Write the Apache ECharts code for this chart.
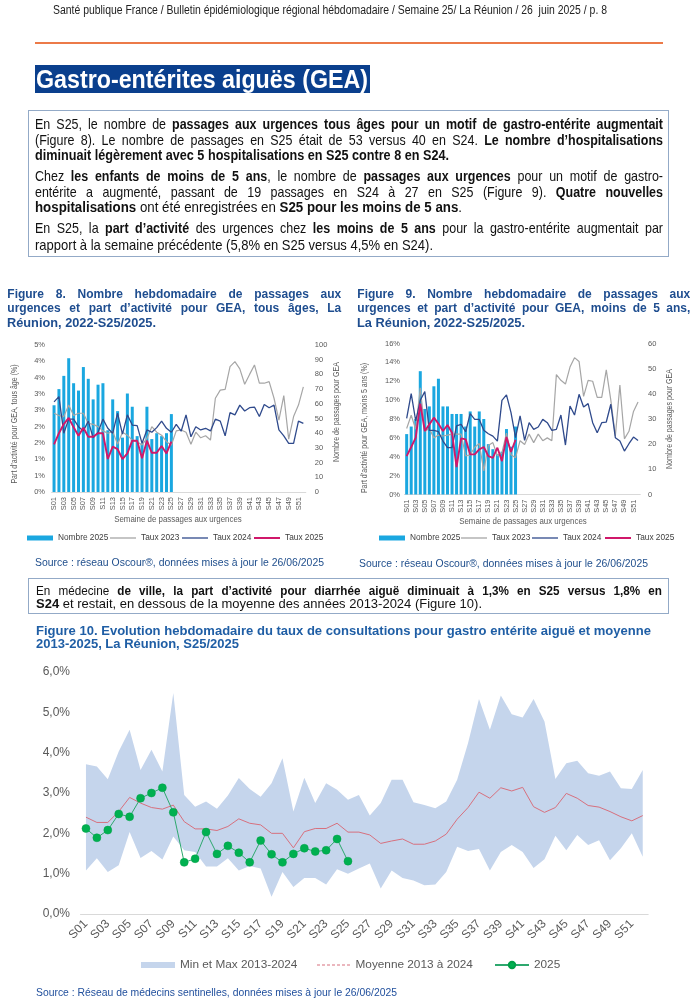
<!DOCTYPE html>
<html><head><meta charset="utf-8">
<script src="https://cdn.jsdelivr.net/npm/echarts@6/dist/echarts.min.js"></script>
<style>
body{margin:0;background:#fff;}
#page{position:relative;width:699px;height:1000px;overflow:hidden;background:#fff;}
#chart{position:absolute;left:0;top:0;width:699px;height:1000px;}
.ln{position:absolute;white-space:nowrap;transform-origin:0 50%;}
.j{text-align:justify;text-align-last:justify;}
.nar{font-family:"Liberation Sans Narrow","Arial Narrow","Liberation Sans",Arial,sans-serif;}
.reg{font-family:"Liberation Sans",Arial,sans-serif;}
.box{position:absolute;border:1.5px solid #93AAC7;box-sizing:border-box;}
.t14{font-size:14.5px;line-height:16px;color:#111;}
.ft{font-size:12px;line-height:14px;font-weight:bold;color:#1E4D8F;}
.src{font-size:10px;line-height:14px;color:#1F4E8C;}
</style></head>
<body><div id="page">
<div id="chart"></div>

<div class="ln nar" data-w="554" style="left:53px;top:3px;font-size:12px;line-height:14px;color:#222">Santé publique France / Bulletin épidémiologique régional hébdomadaire / Semaine 25/ La Réunion / 26&nbsp; juin 2025 / p. 8</div>
<div style="position:absolute;left:35px;top:42px;width:628px;height:2px;background:#EC7A48"></div>
<div style="position:absolute;left:35px;top:65px;width:335px;height:28px;background:#0A3F8D"></div>
<div class="ln nar" data-w="332" style="left:36px;top:65px;font-size:26px;line-height:28px;font-weight:bold;color:#fff">Gastro-entérites aiguës (GEA)</div>

<div class="box" style="left:28px;top:110px;width:641px;height:147px"></div>
<div class="ln nar t14 j" data-s="0.86" data-w="628" style="left:35px;top:116px">En S25, le nombre de <b>passages aux urgences tous âges pour un motif de gastro-entérite augmentait</b></div>
<div class="ln nar t14 j" data-s="0.86" data-w="628" style="left:35px;top:132px">(Figure 8). Le nombre de passages en S25 était de 53 versus 40 en S24. <b>Le nombre d’hospitalisations</b></div>
<div class="ln nar t14" data-w="414" style="left:35px;top:147px"><b>diminuait légèrement avec 5 hospitalisations en S25 contre 8 en S24.</b></div>
<div class="ln nar t14 j" data-s="0.86" data-w="628" style="left:35px;top:168px">Chez <b>les enfants de moins de 5 ans</b>, le nombre de <b>passages aux urgences</b> pour un motif de gastro-</div>
<div class="ln nar t14 j" data-s="0.86" data-w="628" style="left:35px;top:183.7px">entérite a augmenté, passant de 19 passages en S24 à 27 en S25 (Figure 9). <b>Quatre nouvelles</b></div>
<div class="ln nar t14" data-w="427" style="left:35px;top:198.7px"><b>hospitalisations</b> ont été enregistrées en <b>S25 pour les moins de 5 ans</b>.</div>
<div class="ln nar t14 j" data-s="0.86" data-w="628" style="left:35px;top:220.3px">En S25, la <b>part d’activité</b> des urgences chez <b>les moins de 5 ans</b> pour la gastro-entérite augmentait par</div>
<div class="ln nar t14" data-w="398" style="left:35px;top:237px">rapport à la semaine précédente (5,8% en S25 versus 4,5% en S24).</div>

<div class="ln reg ft j" data-w="334" style="left:7.3px;top:287px">Figure 8. Nombre hebdomadaire de passages aux</div>
<div class="ln reg ft j" data-w="334" style="left:7.3px;top:301.3px">urgences et part d’activité pour GEA, tous âges, La</div>
<div class="ln reg ft" data-w="149" style="left:7.3px;top:315.7px">Réunion, 2022-S25/2025.</div>
<div class="ln reg ft j" data-w="333" style="left:357.3px;top:287px">Figure 9. Nombre hebdomadaire de passages aux</div>
<div class="ln reg ft j" data-w="333" style="left:357.3px;top:301.3px">urgences et part d’activité pour GEA, moins de 5 ans,</div>
<div class="ln reg ft" data-w="168" style="left:357.3px;top:315.7px">La Réunion, 2022-S25/2025.</div>

<div class="ln reg src" data-w="289" style="left:35px;top:556.3px">Source : réseau Oscour®, données mises à jour le 26/06/2025</div>
<div class="ln reg src" data-w="289" style="left:359px;top:557px">Source : réseau Oscour®, données mises à jour le 26/06/2025</div>

<div class="box" style="left:28px;top:578px;width:641px;height:36px"></div>
<div class="ln nar j" data-s="0.88" data-w="626" style="left:35.6px;top:582.5px;font-size:13.3px;line-height:15px;color:#111">En médecine <b>de ville, la part d’activité pour diarrhée aiguë diminuait à 1,3% en S25 versus 1,8% en</b></div>
<div class="ln nar" data-w="446" style="left:35.6px;top:595.8px;font-size:13.3px;line-height:15px;color:#111"><b>S24</b> et restait, en dessous de la moyenne des années 2013-2024 (Figure 10).</div>
<div class="ln nar" data-w="615" style="left:35.6px;top:622.5px;font-size:13.3px;line-height:15px;font-weight:bold;color:#1F5EA5">Figure 10. Evolution hebdomadaire du taux de consultations pour gastro entérite aiguë et moyenne</div>
<div class="ln nar" data-w="203" style="left:35.6px;top:635.8px;font-size:13.3px;line-height:15px;font-weight:bold;color:#1F5EA5">2013-2025, La Réunion, S25/2025</div>

<div class="ln nar" data-w="361" style="left:35.6px;top:984.7px;font-size:11.5px;line-height:14px;color:#1F4E9C">Source : Réseau de médecins sentinelles, données mises à jour le 26/06/2025</div>
</div>

<script>
// ---------- DATA ----------
const weeks = ['S01','S02','S03','S04','S05','S06','S07','S08','S09','S10','S11','S12','S13','S14','S15','S16','S17','S18','S19','S20','S21','S22','S23','S24','S25','S26',
  'S27','S28','S29','S30','S31','S32','S33','S34','S35','S36','S37','S38','S39','S40','S41','S42','S43','S44','S45','S46','S47','S48','S49','S50','S51','S52'];

// Figure 8 - tous âges
const fig8Nombre2025 = [59,70,79,91,74,69,85,77,63,73,74,42,63,55,37,67,58,38,33,58,36,40,38,40,53];
const fig8Taux2023 = [2.41,2.34,2.31,2.66,2.34,2.41,2.41,2.10,2.07,2.00,1.87,1.80,1.85,1.46,1.83,1.74,1.59,1.54,1.44,1.64,2.00,1.83,1.74,1.54,1.44,
  1.87,1.90,1.83,1.46,1.83,1.66,1.72,1.59,2.87,3.12,3.14,3.84,3.99,3.77,3.30,3.60,3.89,3.33,3.33,3.38,2.87,2.20,2.95,1.62,2.31,2.66,3.22];
const fig8Taux2024 = [2.76,2.92,1.80,2.23,2.23,2.00,1.87,2.17,1.66,1.83,2.23,1.95,1.80,2.41,1.77,2.36,2.05,2.03,1.49,1.90,1.83,1.97,2.17,1.95,1.83,
  2.07,1.86,2.36,1.69,2.00,1.90,1.95,1.87,2.23,2.17,1.72,2.43,2.36,2.66,2.48,2.58,2.60,2.31,2.68,2.58,2.66,1.90,1.72,1.49,1.49,2.17,2.10];
const fig8Taux2025 = [1.46,1.80,2.08,2.27,1.98,1.72,1.97,1.69,1.69,1.80,1.80,1.01,1.39,1.31,1.01,1.18,1.57,1.57,1.03,1.57,1.20,1.20,1.41,1.18,1.54];
const fig8LeftLabels = ['0%','1%','1%','2%','2%','3%','3%','4%','4%','5%'];
const fig8RightLabels = ['0','10','20','30','40','50','60','70','80','90','100'];

// Figure 9 - moins de 5 ans
const fig9Nombre2025 = [24,27,30,49,34,35,43,46,35,35,32,32,32,27,33,27,33,30,20,18,16,17,26,19,27];
const fig9Taux2023 = [7.0,8.4,6.9,11.3,6.7,7.0,6.0,6.3,6.2,6.3,6.4,6.4,6.4,4.1,4.2,5.0,5.4,2.5,5.2,5.5,4.1,4.4,6.5,4.2,3.9,
  5.7,5.3,6.4,5.5,6.4,5.7,6.0,5.7,12.7,12.1,11.7,13.5,14.5,14.1,10.4,12.1,12.0,10.3,10.3,13.2,10.0,6.2,11.6,5.9,6.7,8.8,9.8];
const fig9Taux2024 = [8.07,10.69,7.79,9.98,10.90,6.80,6.80,6.65,5.66,4.96,4.96,7.26,7.43,6.65,8.57,7.96,7.96,6.80,6.44,6.19,5.66,9.98,10.55,8.67,6.02,
  8.32,5.73,7.61,6.90,7.15,7.96,7.61,6.80,6.90,8.42,5.24,9.38,8.42,10.62,9.27,9.63,7.61,6.55,7.61,7.68,9.56,6.02,5.66,4.60,5.38,6.09,5.73];
const fig9Taux2025 = [4.07,5.03,6.02,9.63,6.73,7.43,8.14,7.50,6.73,7.36,6.55,2.90,5.95,5.84,4.25,4.25,4.78,5.03,4.07,3.89,4.96,3.54,6.09,4.5,5.8];
const fig9LeftLabels = ['0%','2%','4%','6%','8%','10%','12%','14%','16%'];
const fig9RightLabels = ['0','10','20','30','40','50','60'];

// Figure 10 - médecins sentinelles
const fig10Max = [3.71,3.66,3.34,4.03,4.57,3.57,4.07,3.53,5.48,2.95,2.66,2.79,2.61,2.94,3.37,3.10,2.91,3.24,3.86,2.54,3.38,2.75,3.24,3.08,2.83,
  2.95,2.44,2.75,3.33,3.33,2.77,2.70,2.62,2.79,3.33,4.24,5.33,4.57,5.42,4.95,4.87,5.33,4.77,3.35,3.74,3.80,3.49,3.43,3.53,3.12,3.10,3.57];
const fig10Min = [1.08,1.38,1.04,1.21,2.03,1.39,1.56,1.35,1.92,1.58,1.54,1.18,1.18,1.38,1.08,1.19,1.13,0.43,1.04,0.67,0.89,0.89,0.73,1.11,1.00,
  1.13,1.25,0.63,1.08,0.89,0.83,0.71,0.73,1.04,1.67,1.56,1.61,1.08,1.54,1.71,1.54,1.14,1.36,1.94,1.58,1.96,1.71,1.83,1.33,1.63,2.00,1.42];
const fig10Moyenne = [2.40,2.27,2.27,2.54,2.89,2.75,2.64,2.60,2.70,2.29,2.11,2.11,2.07,2.17,2.36,2.25,2.21,2.00,2.00,1.64,2.04,2.12,2.12,2.25,2.03,
  2.03,1.96,1.75,1.81,1.86,1.73,1.73,1.81,1.98,2.35,2.64,3.02,2.87,3.13,3.05,3.14,2.66,2.52,2.64,2.99,2.87,2.69,2.65,2.54,2.41,2.31,2.44];
const fig10Data2025 = [2.12,1.89,2.08,2.48,2.41,2.87,3.00,3.13,2.52,1.28,1.37,2.03,1.49,1.69,1.52,1.28,1.82,1.48,1.28,1.49,1.63,1.55,1.58,1.86,1.31];
const fig10YLabels = ['0,0%','1,0%','2,0%','3,0%','4,0%','5,0%','6,0%'];

// ---------- CHART ----------
const REG = '"Liberation Sans",Arial,sans-serif';
const GRAY = '#595959';
const C_BAR = '#1AA7E0', C23 = '#A6A6A6', C24 = '#2F4A8C', C25 = '#D0186A';
const C_BAND = '#C5D5EC', C_MEAN = '#D7707E', C_2025L = '#2EA86E', C_2025P = '#00B050';
const DASH_ICON = 'path://M0 0h3v1h-3zM5 0h3v1h-3zM10 0h3v1h-3zM15 0h3v1h-3zM20 0h3v1h-3zM25 0h3v1h-3zM30 0h3v1h-3z';

const chart = echarts.init(document.getElementById('chart'));
const smallLbl = {fontFamily: REG, fontSize: 7.5, color: GRAY};
const catAxis = (gi, lbl) => ({gridIndex: gi, type: 'category', data: weeks, boundaryGap: true,
  axisTick: {show: false}, axisLine: {lineStyle: {color: '#D9D9D9', width: 1}}, splitLine: {show: false}, axisLabel: lbl});
const valAxis = (gi, pos, min, max, step, labels, margin, lblStyle) => ({gridIndex: gi, type: 'value', position: pos,
  min: min, max: max, interval: step, splitLine: {show: false}, axisLine: {show: false}, axisTick: {show: false},
  axisLabel: Object.assign({}, lblStyle, {margin: margin, showMinLabel: true, showMaxLabel: true,
    formatter: v => labels[Math.round((v - min) / step)]})});

const lineS = (name, xi, yi, data, color, width) => ({name, type: 'line', xAxisIndex: xi, yAxisIndex: yi, data,
  symbol: 'none', color: color, lineStyle: {color, width}, z: 3});

const legendItem = (name, left, top, icon, h) => ({data: [{name: name, icon: icon}], left, top, padding: 0, selectedMode: false,
  itemWidth: 26, itemHeight: h, textStyle: {fontFamily: REG, fontSize: 8.3, color: '#404040'}});

const gtext = (text, x, y, size, rot) => ({type: 'text', x, y, rotation: rot || 0, scaleX: 0.83, silent: true,
  style: {text, fontFamily: REG, fontSize: size, fill: GRAY, textAlign: 'center', textVerticalAlign: 'middle', align: 'center', verticalAlign: 'middle'}});

const option = {
  animation: false,
  grid: [
    {left: 51.6, top: 345, width: 254.2, height: 147},
    {left: 404.4, top: 343.5, width: 235.9, height: 151},
    {left: 80.5, top: 672, width: 567.7, height: 242}
  ],
  xAxis: [
    catAxis(0, Object.assign({}, smallLbl, {interval: 1, rotate: 90, margin: 5})),
    catAxis(1, Object.assign({}, smallLbl, {interval: 1, rotate: 90, margin: 5})),
    catAxis(2, {fontFamily: REG, fontSize: 12, color: GRAY, interval: 1, rotate: 45, margin: 8})
  ],
  yAxis: [
    valAxis(0, 'left', 0, 4.5, 0.5, fig8LeftLabels, 6.6, smallLbl),
    valAxis(0, 'right', 0, 100, 10, fig8RightLabels, 9, smallLbl),
    valAxis(1, 'left', 0, 16, 2, fig9LeftLabels, 4.4, smallLbl),
    valAxis(1, 'right', 0, 60, 10, fig9RightLabels, 7.7, smallLbl),
    valAxis(2, 'left', 0, 6, 1, fig10YLabels, 10.5, {fontFamily: REG, fontSize: 12, color: GRAY})
  ],
  legend: [
    legendItem('Nombre 2025', 27, 534, 'rect', 5),
    legendItem('Taux 2023', 110, 534, 'rect', 1.3),
    legendItem('Taux 2024', 182, 534, 'rect', 1.3),
    legendItem('Taux 2025', 254, 534, 'rect', 2),
    legendItem('Nombre 2025', 379, 534, 'rect', 5),
    legendItem('Taux 2023', 461, 534, 'rect', 1.3),
    legendItem('Taux 2024', 532, 534, 'rect', 1.3),
    legendItem('Taux 2025', 605, 534, 'rect', 2),
    {data: [{name: 'Min et Max 2013-2024', icon: 'rect', itemStyle: {color: C_BAND}}], left: 141, top: 959, padding: 0, selectedMode: false,
      itemWidth: 34, itemHeight: 6, textStyle: {fontFamily: REG, fontSize: 11.8, color: GRAY}},
    {data: [{name: 'Moyenne 2013 à 2024', icon: DASH_ICON, itemStyle: {color: C_MEAN}}], left: 317, top: 959, padding: 0, selectedMode: false,
      itemWidth: 34, itemHeight: 1, textStyle: {fontFamily: REG, fontSize: 11.8, color: GRAY}},
    {data: ['2025'], left: 494, top: 959, padding: 0, selectedMode: false,
      itemWidth: 34, itemHeight: 8, textStyle: {fontFamily: REG, fontSize: 11.8, color: GRAY}}
  ],
  series: [
    {name: 'Nombre 2025', type: 'bar', xAxisIndex: 0, yAxisIndex: 1, data: fig8Nombre2025, barWidth: 3, color: C_BAR, itemStyle: {color: C_BAR}},
    lineS('Taux 2023', 0, 0, fig8Taux2023, C23, 1.2),
    lineS('Taux 2024', 0, 0, fig8Taux2024, C24, 1.3),
    lineS('Taux 2025', 0, 0, fig8Taux2025, C25, 1.9),
    {name: 'Nombre 2025', type: 'bar', xAxisIndex: 1, yAxisIndex: 3, data: fig9Nombre2025, barWidth: 3, color: C_BAR, itemStyle: {color: C_BAR}},
    lineS('Taux 2023', 1, 2, fig9Taux2023, C23, 1.2),
    lineS('Taux 2024', 1, 2, fig9Taux2024, C24, 1.3),
    lineS('Taux 2025', 1, 2, fig9Taux2025, C25, 1.9),
    {name: 'minBase', type: 'line', xAxisIndex: 2, yAxisIndex: 4, stack: 'band', data: fig10Min, symbol: 'none',
      lineStyle: {opacity: 0}, silent: true, z: 1},
    {name: 'Min et Max 2013-2024', type: 'line', xAxisIndex: 2, yAxisIndex: 4, stack: 'band',
      data: fig10Max.map((v, i) => +(v - fig10Min[i]).toFixed(2)), symbol: 'none', color: C_BAND,
      lineStyle: {opacity: 0}, areaStyle: {color: C_BAND, opacity: 1}, silent: true, z: 1},
    {name: 'Moyenne 2013 à 2024', type: 'line', xAxisIndex: 2, yAxisIndex: 4, data: fig10Moyenne, symbol: 'none',
      color: C_MEAN, lineStyle: {color: C_MEAN, width: 1}, z: 3},
    {name: '2025', type: 'line', xAxisIndex: 2, yAxisIndex: 4, data: fig10Data2025, symbol: 'circle', symbolSize: 8,
      showAllSymbol: true, color: C_2025P, lineStyle: {color: C_2025L, width: 1},
      itemStyle: {color: C_2025P, borderColor: '#00A048', borderWidth: 0.5}, z: 4}
  ],
  graphic: [
    gtext('Semaine de passages aux urgences', 178, 519, 9.5),
    gtext('Part d’activité pour GEA, tous âge (%)', 15, 424, 8.5, Math.PI / 2),
    gtext('Nombre de passages pour GEA', 337, 412, 8.5, Math.PI / 2),
    gtext('Semaine de passages aux urgences', 523, 521.7, 9.5),
    gtext('Part d’activité pour GEA, moins 5 ans (%)', 365, 428, 8.5, Math.PI / 2),
    gtext('Nombre de passages pour GEA', 670, 419, 8.5, Math.PI / 2)
  ]
};
chart.setOption(option);

// ---------- fit text lines to reference widths ----------
function fitLines() {
  document.querySelectorAll('.ln').forEach(el => {
    const w = parseFloat(el.dataset.w);
    if (!w) return;
    el.style.width = 'auto';
    el.style.transform = 'none';
    const nat = el.getBoundingClientRect().width;
    if (el.classList.contains('j')) {
      let s = parseFloat(el.dataset.s || '1');
      if (nat * s > w) s = w / nat;
      const inner = w / s;
      if (nat > inner) {
        el.style.width = nat + 'px';
        el.style.textAlignLast = 'left';
      } else {
        el.style.width = inner + 'px';
        el.style.whiteSpace = 'normal';
      }
      el.style.transform = 'scaleX(' + s + ')';
    } else {
      let s = w / nat;
      s = Math.max(0.7, Math.min(1.3, s));
      el.style.transform = 'scaleX(' + s + ')';
    }
  });
}
fitLines();
</script>
</body></html>
